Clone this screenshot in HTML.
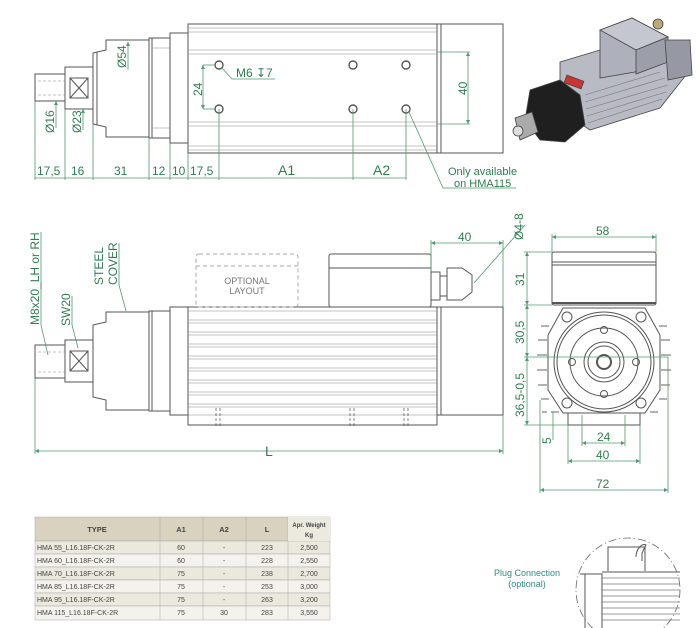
<!DOCTYPE html>
<html><head><meta charset="utf-8"><style>
html,body{margin:0;padding:0;background:#fff;width:700px;height:628px;overflow:hidden}
svg{display:block}
text{font-family:"Liberation Sans",Arial,sans-serif}
.g{fill:#2e7d4f}
.d{stroke:#4f9a6b;stroke-width:0.8;fill:none}
.l{stroke:#555;stroke-width:1;fill:none}
.t{stroke:#888;stroke-width:0.6;fill:none}
</style></head><body>
<svg width="700" height="628" viewBox="0 0 700 628" xmlns="http://www.w3.org/2000/svg">
<defs>
<marker id="a" viewBox="0 0 6 6" refX="6" refY="3" markerWidth="5" markerHeight="5" orient="auto-start-reverse"><path d="M0,0L6,3L0,6z" fill="#4f9a6b"/></marker>
</defs>

<!-- ===== TOP VIEW ===== -->
<g class="l">
<rect x="188" y="24" width="249" height="129"/>
<rect x="437" y="24" width="66" height="129"/>
<line x1="441" y1="24" x2="441" y2="153"/>
<rect x="170" y="33" width="18" height="110"/>
<rect x="149" y="38" width="21" height="100"/>
<line x1="152" y1="38" x2="152" y2="138"/>
<path d="M106,40H149V137H106V127L93,124V53L106,50Z"/>
<line x1="97" y1="52" x2="97" y2="125"/>
<rect x="65" y="67" width="28" height="42"/>
<rect x="70" y="78" width="18" height="20"/>
<path d="M70,78L88,98M88,78L70,98"/>
<rect x="35" y="74" width="30" height="27"/>
</g>
<g class="t">
<line x1="188" y1="28" x2="437" y2="28"/><line x1="188" y1="32" x2="437" y2="32"/>
<line x1="188" y1="50" x2="437" y2="50"/><line x1="188" y1="54" x2="437" y2="54"/>
<line x1="188" y1="122" x2="437" y2="122"/><line x1="188" y1="126" x2="437" y2="126"/>
<line x1="188" y1="146" x2="437" y2="146"/><line x1="188" y1="150" x2="437" y2="150"/>
<line x1="152" y1="48" x2="170" y2="48"/><line x1="152" y1="128" x2="170" y2="128"/>
<path d="M38,81H65M38,95H65" stroke-dasharray="3,2"/>
</g>
<g stroke="#555" stroke-width="1.4" fill="none">
<circle cx="219" cy="65" r="4"/><circle cx="219" cy="109" r="4"/>
<circle cx="353" cy="65" r="4"/><circle cx="353" cy="109" r="4"/>
<circle cx="406" cy="65" r="4"/><circle cx="406" cy="109" r="4"/>
</g>
<g class="d">
<line x1="35" y1="178" x2="406" y2="178"/>
<line x1="35" y1="101" x2="35" y2="180"/><line x1="65" y1="109" x2="65" y2="180"/>
<line x1="93" y1="124" x2="93" y2="180"/><line x1="149" y1="138" x2="149" y2="180"/>
<line x1="170" y1="143" x2="170" y2="180"/><line x1="188" y1="153" x2="188" y2="180"/>
<line x1="219" y1="109" x2="219" y2="180"/><line x1="353" y1="109" x2="353" y2="180"/>
<line x1="406" y1="109" x2="406" y2="180"/>
<line x1="203" y1="65" x2="203" y2="109" marker-start="url(#a)" marker-end="url(#a)"/>
<line x1="203" y1="65" x2="215" y2="65"/><line x1="203" y1="109" x2="215" y2="109"/>
<path d="M222,68L232,79H275"/>
<line x1="468" y1="52" x2="468" y2="124" marker-start="url(#a)" marker-end="url(#a)"/>
<line x1="437" y1="52" x2="470" y2="52"/><line x1="437" y1="124" x2="470" y2="124"/>
<line x1="128" y1="42" x2="128" y2="70" marker-start="url(#a)"/>
<line x1="56" y1="101" x2="56" y2="128" marker-start="url(#a)"/>
<line x1="83" y1="109" x2="83" y2="130" marker-start="url(#a)"/>
<path d="M409,112L443,188H516"/>
</g>
<g class="g" font-size="12">
<text x="37" y="175">17,5</text><text x="71" y="175">16</text><text x="114" y="175">31</text>
<text x="152" y="175">12</text><text x="172" y="175">10</text><text x="190" y="175">17,5</text>
<text x="278" y="175" font-size="14">A1</text><text x="373" y="175" font-size="14">A2</text>
<text x="236" y="77">M6 ↧7</text>
<text x="448" y="175" font-size="11">Only available</text>
<text x="454" y="187" font-size="11">on HMA115</text>
<text transform="translate(202,96) rotate(-90)">24</text>
<text transform="translate(467,95) rotate(-90)">40</text>
<text transform="translate(126,68) rotate(-90)">Ø54</text>
<text transform="translate(54,133) rotate(-90)">Ø16</text>
<text transform="translate(81,133) rotate(-90)">Ø23</text>
</g>

<!-- ===== 3D PICTURE ===== -->
<g stroke="#444" stroke-width="0.8">
<polygon points="560,62 600,50 640,44 690,40 690,70 660,108 590,130 560,110" fill="#b8bac4"/>
<polygon points="600,50 600,78 635,72 668,37 632,18 600,30" fill="#aeb0bc"/>
<polygon points="600,30 632,18 668,37 636,50" fill="#c4c6d0"/>
<polygon points="636,50 668,37 668,62 636,74" fill="#9c9eaa"/>
<polygon points="665,40 690,40 692,75 668,80" fill="#9698a4"/>
<polygon points="530,90 560,80 580,95 585,125 565,142 540,140 525,120" fill="#1f1f1f"/>
<polygon points="515,118 532,112 538,132 520,140" fill="#aaa"/>
<circle cx="518" cy="131" r="5" fill="#ddd"/>
<rect x="565" y="78" width="18" height="8" fill="#c33" transform="rotate(20 574 82)"/>
<circle cx="658" cy="24" r="5" fill="#b9a878"/>
</g>
<g stroke="#777" stroke-width="0.6">
<line x1="585" y1="95" x2="660" y2="72"/><line x1="585" y1="102" x2="665" y2="78"/>
<line x1="586" y1="109" x2="668" y2="85"/><line x1="587" y1="116" x2="666" y2="92"/>
<line x1="588" y1="123" x2="662" y2="99"/>
</g>

<!-- ===== SIDE VIEW ===== -->
<g class="l">
<rect x="188" y="307" width="249" height="118"/>
<rect x="437" y="307" width="66" height="108"/>
<line x1="441" y1="307" x2="441" y2="415"/>
<rect x="170" y="307" width="18" height="108"/>
<rect x="149" y="311" width="21" height="100"/>
<line x1="152" y1="311" x2="152" y2="411"/>
<path d="M106,312H149V410H106V400L93,397V325L106,322Z"/>
<rect x="65" y="340" width="28" height="42"/>
<rect x="70" y="351" width="18" height="20"/>
<path d="M70,351L88,371M88,351L70,371"/>
<rect x="35" y="345" width="30" height="33"/>
<rect x="329" y="254" width="102" height="53" rx="2"/>
<line x1="329" y1="268" x2="431" y2="268"/>
<path d="M431,272H440V300H431M440,276H447V296H440M447,268H462L472,275V292L462,300H447Z"/>
</g>
<g class="t">
<line x1="188" y1="311" x2="437" y2="311"/><line x1="188" y1="320" x2="437" y2="320"/>
<line x1="188" y1="323" x2="437" y2="323"/><line x1="188" y1="332" x2="437" y2="332"/>
<line x1="188" y1="335" x2="437" y2="335"/><line x1="188" y1="344" x2="437" y2="344"/>
<line x1="188" y1="347" x2="437" y2="347"/><line x1="188" y1="356" x2="437" y2="356"/>
<line x1="188" y1="359" x2="437" y2="359"/><line x1="188" y1="368" x2="437" y2="368"/>
<line x1="188" y1="371" x2="437" y2="371"/><line x1="188" y1="380" x2="437" y2="380"/>
<line x1="188" y1="383" x2="437" y2="383"/><line x1="188" y1="392" x2="437" y2="392"/>
<line x1="188" y1="395" x2="437" y2="395"/><line x1="188" y1="404" x2="437" y2="404"/>
<line x1="188" y1="407" x2="437" y2="407"/><line x1="188" y1="415" x2="437" y2="415"/>
<path d="M38,352H65M38,372H65" stroke-dasharray="3,2"/>
<path d="M216,408V428M220,408V428M350,408V428M354,408V428M404,408V428M408,408V428" stroke="#333" stroke-dasharray="3,2"/>
</g>
<g stroke="#aaa" stroke-width="1" fill="none" stroke-dasharray="4,3">
<rect x="196" y="254" width="102" height="53" rx="3"/><line x1="196" y1="266" x2="298" y2="266"/>
</g>
<text x="247" y="284" font-size="9" fill="#777" text-anchor="middle">OPTIONAL</text>
<text x="247" y="294" font-size="9" fill="#777" text-anchor="middle">LAYOUT</text>
<g class="d">
<line x1="35" y1="451" x2="503" y2="451" marker-start="url(#a)" marker-end="url(#a)"/>
<line x1="35" y1="378" x2="35" y2="454"/><line x1="503" y1="415" x2="503" y2="454"/>
<line x1="431" y1="243" x2="503" y2="243" marker-start="url(#a)" marker-end="url(#a)"/>
<line x1="431" y1="240" x2="431" y2="272"/><line x1="503" y1="240" x2="503" y2="307"/>
<path d="M41,232V325L48,355"/>
<path d="M72,296V325L78,348"/>
<path d="M119,243V285L126,311"/>
<path d="M474,283L525,225"/>
</g>
<g class="g" font-size="12">
<text x="265" y="456" font-size="14">L</text>
<text x="458" y="241">40</text>
<text transform="translate(39,325) rotate(-90)">M8x20_LH or RH</text>
<text transform="translate(70,326) rotate(-90)">SW20</text>
<text transform="translate(103,285) rotate(-90)">STEEL</text>
<text transform="translate(117,285) rotate(-90)">COVER</text>
<text transform="translate(523,240) rotate(-90)">Ø4-8</text>
</g>

<!-- ===== END VIEW ===== -->
<g class="l">
<rect x="552" y="252" width="104" height="53" rx="2"/>
<line x1="552" y1="262" x2="656" y2="262"/><line x1="552" y1="265" x2="656" y2="265"/>
<line x1="552" y1="303" x2="656" y2="303" stroke-width="2"/>
<path d="M563,308H645L660,335V390L645,413H563L548,390V335Z"/>
<rect x="568" y="413" width="72" height="12"/>
<circle cx="604" cy="362" r="50"/><circle cx="604" cy="362" r="47"/>
<circle cx="604" cy="362" r="34"/><circle cx="604" cy="362" r="20"/>
<circle cx="604" cy="362" r="16"/><circle cx="604" cy="362" r="7" stroke-width="2"/>
<circle cx="604" cy="330" r="3.5"/><circle cx="604" cy="394" r="3.5"/>
<circle cx="572" cy="362" r="3.5"/><circle cx="636" cy="362" r="3.5"/>
<circle cx="567" cy="317" r="5"/><circle cx="641" cy="317" r="5"/>
<circle cx="567" cy="403" r="5"/><circle cx="641" cy="403" r="5"/>
</g>
<g stroke="#666" stroke-width="1">
<path d="M541,326h8M538,340h9M537,355h10M537,370h10M538,385h9M541,399h8M551,412h8M542,412h5"/>
<path d="M659,326h8M661,340h9M661,355h10M661,370h10M661,385h9M659,399h8M650,412h8"/>
</g>
<g class="d">
<line x1="552" y1="237" x2="656" y2="237" marker-start="url(#a)" marker-end="url(#a)"/>
<line x1="552" y1="234" x2="552" y2="252"/><line x1="656" y1="234" x2="656" y2="252"/>
<line x1="527" y1="252" x2="527" y2="305" marker-start="url(#a)" marker-end="url(#a)"/>
<line x1="527" y1="305" x2="527" y2="357" marker-start="url(#a)" marker-end="url(#a)"/>
<line x1="527" y1="357" x2="527" y2="425" marker-start="url(#a)" marker-end="url(#a)"/>
<line x1="524" y1="252" x2="552" y2="252"/><line x1="524" y1="305" x2="552" y2="305"/>
<line x1="524" y1="357" x2="668" y2="357"/><line x1="524" y1="425" x2="568" y2="425"/>
<line x1="553" y1="412" x2="553" y2="440"/>
<line x1="582" y1="443" x2="625" y2="443" marker-start="url(#a)" marker-end="url(#a)"/>
<line x1="582" y1="415" x2="582" y2="446"/><line x1="625" y1="415" x2="625" y2="446"/>
<line x1="568" y1="461" x2="640" y2="461" marker-start="url(#a)" marker-end="url(#a)"/>
<line x1="568" y1="425" x2="568" y2="464"/><line x1="640" y1="425" x2="640" y2="464"/>
<line x1="540" y1="490" x2="668" y2="490" marker-start="url(#a)" marker-end="url(#a)"/>
<line x1="540" y1="400" x2="540" y2="493"/><line x1="668" y1="357" x2="668" y2="493"/>
</g>
<g class="g" font-size="12">
<text x="596" y="235">58</text><text x="597" y="441">24</text>
<text x="596" y="459">40</text><text x="596" y="488">72</text>
<text transform="translate(524,286) rotate(-90)">31</text>
<text transform="translate(524,344) rotate(-90)">30,5</text>
<text transform="translate(524,417) rotate(-90)">36,5-0,5</text>
<text transform="translate(551,444) rotate(-90)">5</text>
</g>

<!-- ===== TABLE ===== -->
<g font-size="7" fill="#444">
<rect x="35" y="517" width="295" height="24" fill="#d8d2be" stroke="#aaa" stroke-width="0.5"/>
<g stroke="#aaa" stroke-width="0.5">
<rect x="35" y="541" width="295" height="13" fill="#ebe8de"/>
<rect x="35" y="554" width="295" height="13" fill="#f4f2ec"/>
<rect x="35" y="567" width="295" height="13" fill="#ebe8de"/>
<rect x="35" y="580" width="295" height="13" fill="#f4f2ec"/>
<rect x="35" y="593" width="295" height="13" fill="#ebe8de"/>
<rect x="35" y="606" width="295" height="14" fill="#f4f2ec"/>
<path d="M160,517V620M203,517V620M246,517V620M288,517V620"/>
</g>
<rect x="288" y="517" width="42" height="24" fill="#ece9df"/>
<g font-weight="bold" text-anchor="middle" font-size="7.5">
<text x="97" y="532">TYPE</text><text x="181" y="532">A1</text><text x="224" y="532">A2</text><text x="267" y="532">L</text>
<text x="309" y="527" font-size="6">Apr. Weight</text><text x="309" y="537" font-size="6">Kg</text>
</g>
<g>
<text x="37" y="550">HMA 55_L16.18F-CK-2R</text>
<text x="37" y="563">HMA 60_L16.18F-CK-2R</text>
<text x="37" y="576">HMA 70_L16.18F-CK-2R</text>
<text x="37" y="589">HMA 85_L16.18F-CK-2R</text>
<text x="37" y="602">HMA 95_L16.18F-CK-2R</text>
<text x="37" y="615">HMA 115_L16.18F-CK-2R</text>
</g>
<g text-anchor="middle">
<text x="181" y="550">60</text><text x="224" y="550">-</text><text x="267" y="550">223</text><text x="309" y="550">2,500</text>
<text x="181" y="563">60</text><text x="224" y="563">-</text><text x="267" y="563">228</text><text x="309" y="563">2,550</text>
<text x="181" y="576">75</text><text x="224" y="576">-</text><text x="267" y="576">238</text><text x="309" y="576">2,700</text>
<text x="181" y="589">75</text><text x="224" y="589">-</text><text x="267" y="589">253</text><text x="309" y="589">3,000</text>
<text x="181" y="602">75</text><text x="224" y="602">-</text><text x="267" y="602">263</text><text x="309" y="602">3,200</text>
<text x="181" y="615">75</text><text x="224" y="615">30</text><text x="267" y="615">283</text><text x="309" y="615">3,550</text>
</g>
</g>

<!-- ===== PLUG DETAIL ===== -->
<text x="527" y="576" font-size="9" fill="#2e8a80" text-anchor="middle">Plug Connection</text>
<text x="527" y="587" font-size="9" fill="#2e8a80" text-anchor="middle">(optional)</text>
<circle cx="628" cy="590" r="52" fill="none" stroke="#666" stroke-width="0.8" stroke-dasharray="8,3,1,3"/>
<g class="l" stroke-width="0.8">
<path d="M608,571V547H645V571"/>
<path d="M636,557c0,-8 6,-14 10,-12l-4,8v8"/>
<path d="M580,574H602V628M585,574V628M602,572H680"/>
</g>
<g stroke="#777" stroke-width="0.7">
<path d="M602,578H680M602,584H680M602,590H680M602,596H680M602,602H680M602,608H680M602,614H680M602,620H680"/>
</g>
</svg>
</body></html>
